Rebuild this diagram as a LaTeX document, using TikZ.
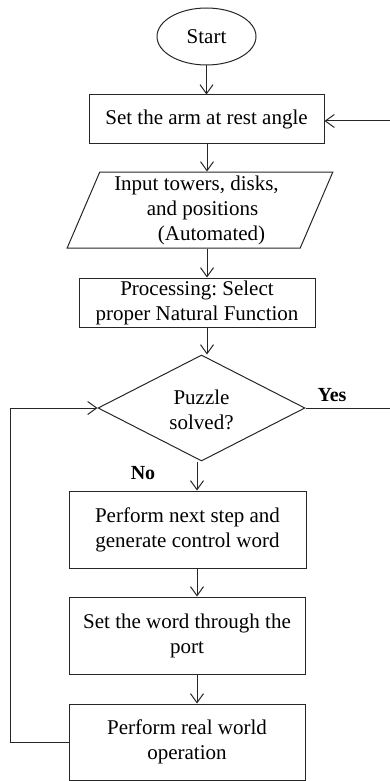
\documentclass[tikz,border=0pt]{standalone}
\usepackage{fontspec}
\setmainfont{Liberation Serif}
\usetikzlibrary{shapes.geometric,arrows.meta}
\frenchspacing
\begin{document}
\begin{tikzpicture}[x=1pt,y=-1pt,
  every node/.style={font=\fontsize{21}{25}\selectfont, inner sep=0pt, align=center},
  line/.style={line width=1pt, draw=black!85},
  arr/.style={line, -{Straight Barb[length=9pt,width=13pt,line width=1pt]}},
  box/.style={rectangle, line},
  lbl/.style={font=\fontsize{20}{24}\selectfont\bfseries}
]
\useasboundingbox (0,0) rectangle (390,781);
\node[ellipse, line, minimum width=99pt, minimum height=57pt] (start) at (206.5,36.5) {Start};
\node[box, minimum width=235pt, minimum height=48pt] (arm) at (206.5,119) {Set the arm at rest angle};
\node[trapezium, trapezium left angle=68, trapezium right angle=112, trapezium stretches=true, line,
      minimum width=266pt, minimum height=76pt] (input) at (200,210)
  {Input towers, disks,\hspace*{7pt}\\ \hspace*{5pt}and positions\\ \hspace*{23pt}(Automated)};
\node[box, minimum width=236pt, minimum height=49pt] (proc) at (197,302.5) {Processing: Select\\ proper Natural Function};
\node[diamond, line, minimum width=207pt, minimum height=106pt] (dia) at (201.5,408) {};
\node (diatext) at (201.5,410) {Puzzle\\ solved?};
\node[box, minimum width=237pt, minimum height=77pt] (next) at (187.5,529.5) {Perform next step and\\ generate control word};
\node[box, minimum width=236pt, minimum height=77pt] (word) at (187,635.5) {Set the word through the\\ port};
\node[box, minimum width=236pt, minimum height=76pt] (real) at (187,742) {Perform real world\\ operation};
\node[lbl] (yes) at (332,395) {Yes};
\node[lbl] (no) at (143,473) {No};
\coordinate (ac) at (207,0);
\coordinate (bc) at (197,0);
\coordinate (lx) at (10,0);
\coordinate (re) at (390,121);
\coordinate (ye) at (390,0);
\draw[arr] (start.south) -- (arm.north);
\draw[arr] (arm.south -| ac) -- (input.north -| ac);
\draw[arr] (input.south -| ac) -- (proc.north -| ac);
\draw[arr] (proc.south -| ac) -- (dia.north -| ac);
\draw[arr] (dia.south -| bc) -- (next.north -| bc);
\draw[arr] (next.south -| bc) -- (word.north -| bc);
\draw[arr] (word.south -| bc) -- (real.north -| bc);
\draw[arr] (real.west) -- (real.west -| lx) |- (dia.west);
\draw[arr] (re) -- (re -| arm.east);
\draw[line] (dia.east) -- (dia.east -| ye);
\end{tikzpicture}
\end{document}
